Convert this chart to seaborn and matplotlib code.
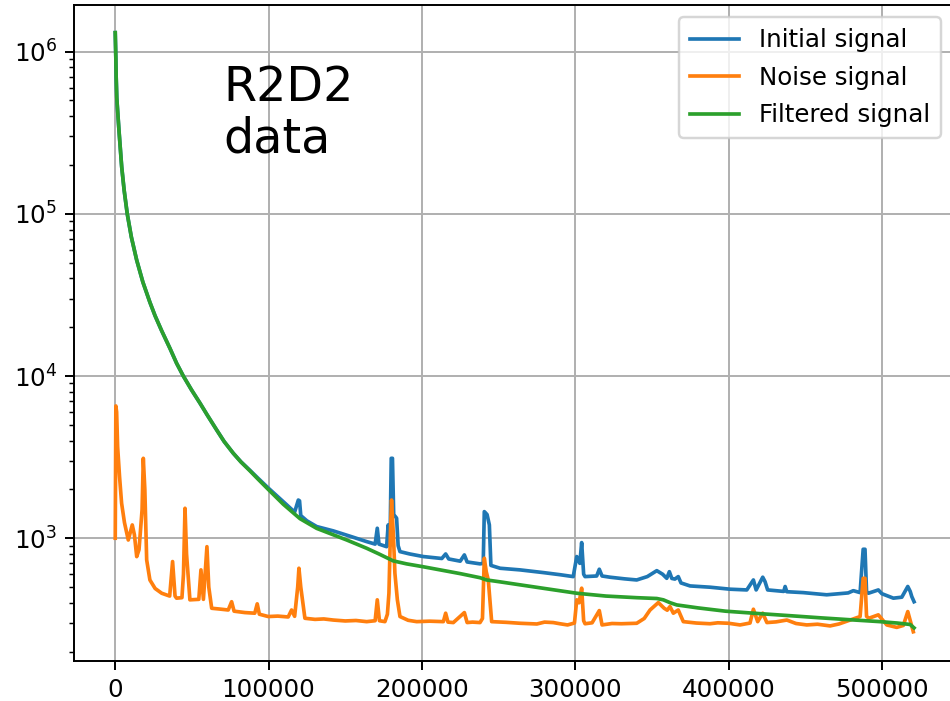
import matplotlib
matplotlib.use("Agg")
import matplotlib.pyplot as plt
import seaborn as sns

# Filtered signal (smooth decay)
filtered_x = [0, 400, 600, 1000, 1500, 2400, 4200, 5800, 7830, 10500,
              13950, 18000, 22600, 26000, 30300, 35700, 40000, 44400, 49800, 55300,
              60000, 66100, 71000, 77000, 82000, 87900, 93000, 99800, 109600, 120500,
              131400, 142200, 151000, 164000, 172000, 181300, 190000, 200500, 215000, 225000,
              237900, 242200, 250000, 264000, 280000, 301000, 320000, 340000, 353200, 357500,
              362000, 366200, 380000, 398000, 420000, 440000, 460000, 480000, 498800, 510000,
              518400, 521000]
filtered_y = [1310000, 900000, 700000, 520000, 440000, 330000, 195000, 140000, 100000, 72000,
              52000, 38000, 28500, 23500, 19000, 14800, 12000, 10000, 8200, 6800,
              5750, 4660, 3950, 3340, 2950, 2600, 2320, 2000, 1620, 1320,
              1150, 1050, 975, 867, 800, 725, 695, 668, 630, 605,
              571, 553, 540, 516, 490, 458, 440, 430, 425, 417,
              400, 388, 372, 355, 343, 333, 323, 314, 306, 300,
              294, 280]

# Initial signal (shares the early decay, then sits above the filtered curve)
initial_x = [0, 400, 600, 1000, 1500, 2400, 4200, 5800, 7830, 10500,
             13950, 18000, 22600, 26000, 30300, 35700, 40000, 44400, 49800, 55300,
             60000, 66100, 71000, 77000, 82000, 87900, 93000, 99800, 109600, 117000,
             119400, 120200, 121000, 125000, 131400, 142200, 153000, 164000, 169500, 170900,
             172000, 177000, 178000, 179200, 180000, 180800, 181600, 183500, 184500, 185700,
             192000, 200900, 213000, 215500, 217500, 225000, 227700, 229500, 237900, 240000,
             240700, 242500, 244000, 245000, 251000, 264000, 279200, 290000, 298700, 301000,
             303000, 304200, 305500, 306400, 314000, 315700, 317500, 322700, 332000, 340100,
             347000, 353200, 357000, 359700, 361400, 363000, 365000, 367200, 369000, 374900,
             387900, 401000, 411900, 416200, 418000, 422300, 423800, 425500, 436000, 436900,
             438000, 448800, 464000, 478000, 481400, 485800, 487800, 489000, 490000, 491200,
             497700, 500000, 507500, 513000, 516900, 518500, 519500, 521000]
initial_y = [1310000, 900000, 700000, 520000, 440000, 330000, 195000, 140000, 100000, 72000,
             52000, 38000, 28500, 23500, 19000, 14800, 12000, 10000, 8200, 6800,
             5750, 4660, 3950, 3340, 2960, 2620, 2350, 2040, 1680, 1450,
             1720, 1700, 1380, 1280, 1180, 1110, 1030, 953, 920, 1152,
             920, 887, 1208, 900, 3110, 3110, 1400, 1330, 900, 827,
             800, 771, 750, 800, 745, 722, 789, 714, 695, 700,
             1459, 1400, 1208, 680, 653, 638, 614, 596, 580, 771,
             700, 940, 600, 580, 585, 644, 585, 575, 562, 553,
             580, 631, 600, 566, 622, 565, 560, 580, 530, 508,
             499, 485, 480, 553, 480, 575, 540, 480, 470, 504,
             468, 462, 448, 460, 475, 462, 855, 855, 470, 458,
             480, 455, 427, 433, 504, 470, 437, 406]

# Noise signal
noise_x = [0, 400, 900, 1550, 2800, 4150, 6000, 8500, 10000, 11100,
           12500, 14000, 15500, 17500, 18300, 19300, 20500, 22600, 26000, 30300,
           35500, 37400, 39000, 40000, 43500, 44500, 45500, 46500, 48700, 54500,
           55900, 57500, 59800, 61000, 62900, 68000, 73700, 75900, 77500, 84600,
           91000, 92600, 94000, 99800, 106000, 112800, 115000, 117000, 119000, 119800,
           121000, 123700, 130300, 136000, 142200, 150000, 157000, 164000, 169500, 170900,
           172300, 175900, 177500, 178500, 179500, 180200, 181500, 182400, 184000, 185700,
           191000, 196600, 205000, 214000, 215500, 217000, 220500, 227700, 229500, 233000,
           237900, 239500, 240700, 242000, 243300, 244500, 245500, 255000, 264000, 275000,
           280000, 285700, 290000, 295000, 299500, 301000, 302500, 304200, 305500, 306400,
           311000, 315700, 317500, 324000, 330000, 340100, 345000, 348800, 354200, 358000,
           360000, 361800, 364000, 367200, 370500, 379000, 387900, 393000, 400000, 407500,
           414000, 416200, 419000, 422300, 425000, 431000, 438000, 444000, 451000, 458000,
           466200, 472000, 479300, 485800, 487800, 489000, 490000, 491500, 497700, 503200,
           509700, 514000, 516900, 519000, 520500]
noise_y = [1000, 6540, 6000, 3670, 2400, 1643, 1250, 975, 1100, 1208,
           1050, 770, 850, 1500, 3110, 2000, 735, 553, 490, 458,
           440, 718, 440, 427, 430, 600, 1530, 800, 417, 420,
           638, 420, 887, 500, 370, 366, 361, 406, 355, 348,
           345, 394, 340, 329, 331, 327, 361, 330, 500, 653,
           500, 321, 316, 318, 313, 309, 311, 306, 310, 417,
           310, 306, 340, 458, 1100, 1720, 1000, 608, 417, 329,
           312, 306, 308, 306, 345, 304, 302, 348, 302, 304,
           302, 320, 753, 620, 553, 400, 306, 303, 299, 296,
           304, 302, 297, 292, 300, 417, 400, 492, 310, 297,
           301, 358, 292, 298, 297, 299, 320, 361, 401, 370,
           360, 379, 345, 361, 306, 300, 297, 301, 299, 292,
           300, 365, 306, 345, 302, 305, 313, 298, 292, 295,
           288, 296, 313, 329, 566, 566, 330, 321, 337, 292,
           282, 290, 353, 299, 265]

legend_labels = ["Initial signal", "Noise signal", "Filtered signal"]
line_colors = ["#1f77b4", "#ff7f0e", "#2ca02c"]
annotation = "R2D2\ndata"

dpi = 176
fig = plt.figure(figsize=(950 / dpi, 701 / dpi), dpi=dpi)
ax = fig.add_axes([74 / 950, 40 / 701, 883 / 950, 656 / 701])

series = [(initial_x, initial_y), (noise_x, noise_y), (filtered_x, filtered_y)]
for (xs, ys), lab, col in zip(series, legend_labels, line_colors):
    sns.lineplot(x=xs, y=ys, ax=ax, label=lab, color=col, linewidth=1.5,
                 estimator=None, sort=False)

ax.set_yscale("log")
ax.set_xlim(-26900, 549000)
ax.set_ylim(175, 1.94e6)
ax.set_xticks([0, 100000, 200000, 300000, 400000, 500000])
ax.grid(True, which="major", color="#b0b0b0", linewidth=0.8)
ax.set_axisbelow(True)
ax.legend(loc="upper right", fontsize=10, bbox_to_anchor=(1 - 4 / 883, 1),
          labelspacing=0.55, borderpad=0.45)

ax.text(0.1687, 0.91, annotation, transform=ax.transAxes, fontsize=19.5,
        ha="left", va="top", linespacing=1.12)

fig.savefig("out.png", dpi=dpi)
